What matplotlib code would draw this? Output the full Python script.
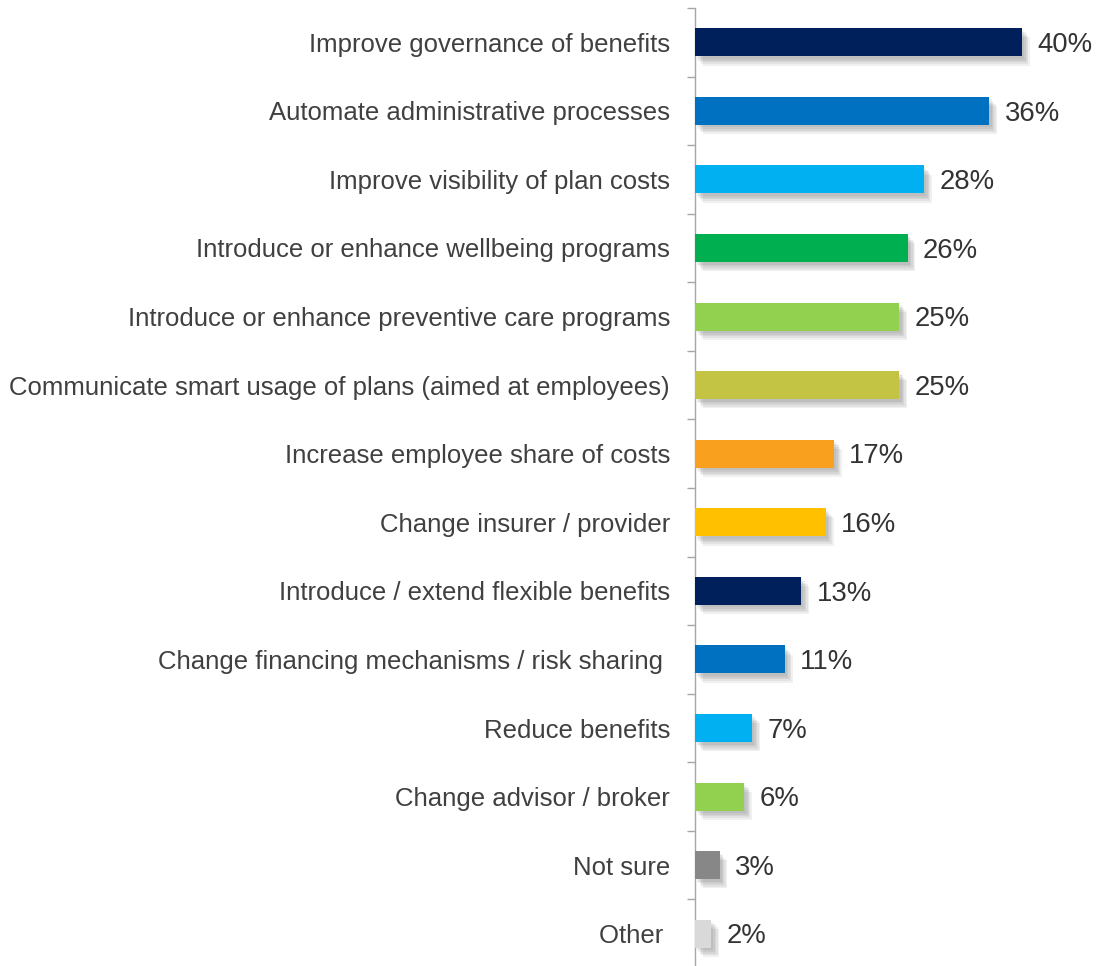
import matplotlib
matplotlib.use("Agg")
import matplotlib.pyplot as plt
import matplotlib.patheffects as pe
import numpy as np

# --- Survey responses ---
categories = [
    "Improve governance of benefits",
    "Automate administrative processes",
    "Improve visibility of plan costs",
    "Introduce or enhance wellbeing programs",
    "Introduce or enhance preventive care programs",
    "Communicate smart usage of plans (aimed at employees)",
    "Increase employee share of costs",
    "Change insurer / provider",
    "Introduce / extend flexible benefits",
    "Change financing mechanisms / risk sharing ",
    "Reduce benefits",
    "Change advisor / broker",
    "Not sure",
    "Other ",
]
values = [40, 36, 28, 26, 25, 25, 17, 16, 13, 11, 7, 6, 3, 2]
colors = [
    "#00205C", "#0070C0", "#00B0F0", "#00B050", "#92D050", "#C4C444",
    "#F9A11F", "#FFC000", "#00205C", "#0070C0", "#00B0F0", "#92D050",
    "#878787", "#D9D9D9",
]

plt.rcParams["font.family"] = ["Liberation Sans", "DejaVu Sans"]

W, H = 1096, 966
fig = plt.figure(figsize=(W / 100, H / 100), dpi=100)
ax = fig.add_axes([695 / W, -2 / H, 409 / W, 960 / H])

y = np.arange(len(categories))

# soft drop shadow built from a few stacked offset copies
shadow = [
    pe.SimplePatchShadow(offset=(o, -o * 1.2), shadow_rgbFace="#5a5a5a", alpha=0.09)
    for o in (1.5, 2.5, 3.5, 4.5, 5.5)
]
bars = ax.barh(y, values, height=0.41, color=colors, zorder=3)
for b in bars:
    b.set_path_effects(shadow + [pe.Normal()])

for yi, v in zip(y, values):
    ax.annotate(f"{v}%", (v, yi), xytext=(11, -2), textcoords="offset points",
                va="center", ha="left", fontsize=19.8, color="#333333")

ax.set_xlim(0, 50)
ax.set_ylim(len(categories) - 0.5, -0.5)

ax.set_yticks(y)
ax.set_yticklabels(categories, fontsize=18.5, color="#404040")
ax.tick_params(axis="y", which="major", length=0, pad=18)
ax.set_yticks(np.arange(len(categories) + 1) - 0.5, minor=True)
ax.tick_params(axis="y", which="minor", length=6, width=1, color="#A6A6A6")
ax.set_xticks([])

for s in ("top", "right", "bottom"):
    ax.spines[s].set_visible(False)
ax.spines["left"].set_color("#A6A6A6")
ax.spines["left"].set_linewidth(1)

fig.savefig("out.png", dpi=100)
